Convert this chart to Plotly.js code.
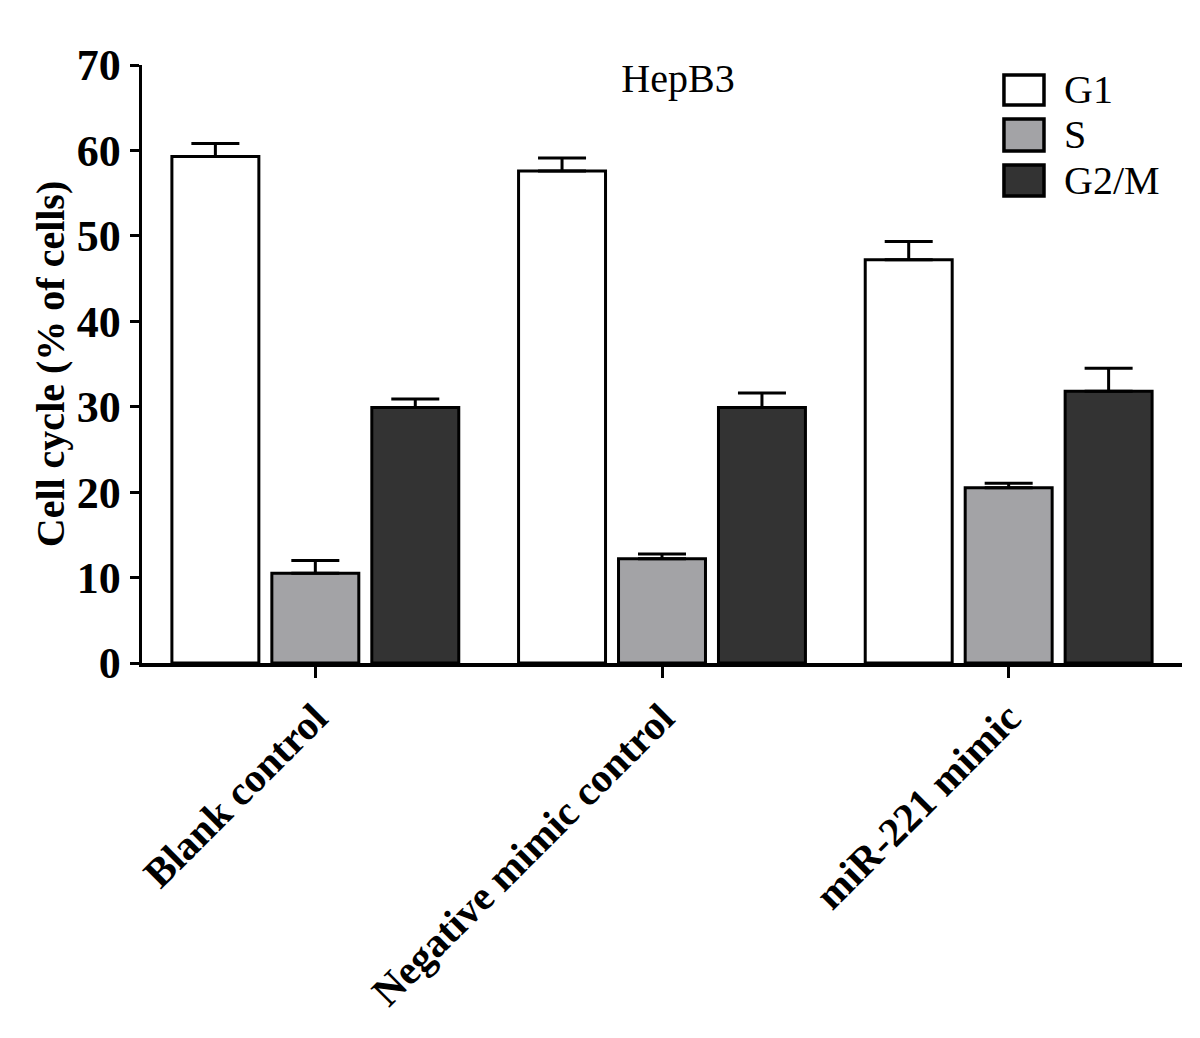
<!DOCTYPE html>
<html>
<head>
<meta charset="utf-8">
<script src="https://cdn.plot.ly/plotly-3.0.1.min.js"></script>
<style>
  html, body { margin: 0; padding: 0; background: #ffffff; }
  #chart { width: 1200px; height: 1038px; }
</style>
</head>
<body>
<div id="chart"></div>
<script>
// ---- data ----
const categories = ["Blank control", "Negative mimic control", "miR-221 mimic"];
const seriesNames = ["G1", "S", "G2/M"];
const g1Values = [59.3, 57.6, 47.2];
const g1Errors = [1.5, 1.5, 2.15];
const sValues = [10.5, 12.2, 20.5];
const sErrors = [1.5, 0.55, 0.55];
const g2mValues = [29.9, 29.9, 31.8];
const g2mErrors = [1.0, 1.7, 2.7];
const yTickValues = [0, 10, 20, 30, 40, 50, 60, 70];
const chartTitle = "HepB3";
const yTitle = "Cell cycle (% of cells)";

// ---- styles ----
const fills = ["#ffffff", "#a3a3a6", "#333333"];
const serifFont = "Liberation Serif, Times New Roman, serif";

const valueSets = [g1Values, sValues, g2mValues];
const errorSets = [g1Errors, sErrors, g2mErrors];

const traces = seriesNames.map((name, i) => ({
  type: "bar",
  name: name,
  x: categories,
  y: valueSets[i],
  marker: { color: fills[i], line: { color: "#000000", width: 3 } },
  error_y: {
    type: "data",
    symmetric: false,
    array: errorSets[i],
    arrayminus: errorSets[i].map(() => 0),
    color: "#000000",
    thickness: 3,
    width: 24
  },
  showlegend: false,
  hoverinfo: "x+y+name"
}));

// custom legend (large keys like the original)
const legendBoxes = [[0.9833, 0.9331], [0.9097, 0.8562], [0.8328, 0.7809]];
const shapes = seriesNames.map((name, i) => ({
  type: "rect", xref: "paper", yref: "paper",
  x0: 0.8288, x1: 0.8673, y0: legendBoxes[i][1], y1: legendBoxes[i][0],
  fillcolor: fills[i], line: { color: "#000000", width: 3.5 }
}));
const annotations = seriesNames.map((name, i) => ({
  xref: "paper", yref: "paper",
  x: 0.8846, y: (legendBoxes[i][0] + legendBoxes[i][1]) / 2,
  xanchor: "left", yanchor: "middle",
  text: name, showarrow: false,
  font: { family: serifFont, size: 40, color: "#000000" }
}));

const layout = {
  width: 1200,
  height: 1038,
  paper_bgcolor: "#ffffff",
  plot_bgcolor: "#ffffff",
  margin: { l: 142, r: 18, t: 65, b: 375 },
  barmode: "group",
  bargap: 0.135,
  bargroupgap: 0.13,
  title: {
    text: chartTitle,
    font: { family: serifFont, size: 40, color: "#000000" },
    x: 0.565, xanchor: "center",
    y: 0.925, yanchor: "middle"
  },
  xaxis: {
    type: "category",
    range: [-0.5, 2.5],
    showline: true, linecolor: "#000000", linewidth: 3.5,
    ticks: "outside", ticklen: 11, tickwidth: 3, tickcolor: "#000000",
    tickangle: -45,
    tickfont: { family: serifFont, size: 41, color: "#000000", weight: "bold" },
    showgrid: false, zeroline: false, fixedrange: true
  },
  yaxis: {
    range: [0, 70],
    tickvals: yTickValues,
    ticktext: yTickValues.map(String),
    showline: true, linecolor: "#000000", linewidth: 3.5,
    ticks: "outside", ticklen: 9, tickwidth: 3, tickcolor: "#000000",
    tickfont: { family: serifFont, size: 44, color: "#000000", weight: "bold" },
    title: { text: yTitle, font: { family: serifFont, size: 40, color: "#000000", weight: "bold" }, standoff: 0 },
    showgrid: false, zeroline: false, fixedrange: true
  },
  shapes: shapes,
  annotations: annotations,
  showlegend: false
};

Plotly.newPlot("chart", traces, layout, { displayModeBar: false, staticPlot: true });
</script>
</body>
</html>
